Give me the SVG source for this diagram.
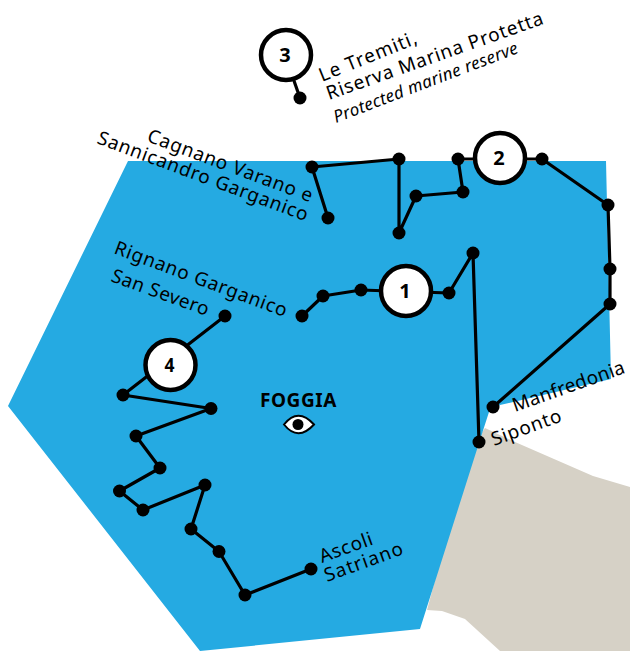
<svg xmlns="http://www.w3.org/2000/svg" width="630" height="651" viewBox="0 0 630 651">
<style>
text{font-family:"Noto Sans","Open Sans",sans-serif;fill:#000}
.l{font-size:19px;letter-spacing:.75px}
.i{font-size:17px;letter-spacing:.35px;font-style:italic}
.n{font-size:20px;font-weight:700;text-anchor:middle}
.c{fill:none;stroke:#000;stroke-width:3.2;stroke-linejoin:round}
.d{fill:#000}
.b{fill:#fff;stroke:#000;stroke-width:4.5}
</style>
<rect width="630" height="651" fill="#fff"/>
<path id="land" d="M485 428L515 442L593 476L630 487V651H500L465 619L442 611L427 610L470 450Z" fill="#d6d1c6"/>
<path id="sea" d="M128 161H606L611 379L500 405L489 412L479 443L420 629L200 651L8 406Z" fill="#25aae2"/>
<g id="connectors">
<path class="c" d="M285 55L300 98"/>
<path class="c" d="M328 218L312 167L399 159V233L416 196L463 192L458 159H542L608 205L610 269V304L493 407"/>
<path class="c" d="M302 316L323 296L361 290L449 293L473 253L479 442"/>
<path class="c" d="M225 316L123 395L211 408.500L136 436L160 468L119.500 491L143 510L205 485L191 529L219 551.500L245 595L311 569"/>
</g>
<g id="dots" class="d">
<circle cx="300" cy="98" r="6.500"/>
<circle cx="328" cy="218" r="6.500"/><circle cx="312" cy="167" r="6.500"/><circle cx="399" cy="159" r="6.500"/><circle cx="399" cy="233" r="6.500"/><circle cx="416" cy="196" r="6.500"/><circle cx="463" cy="192" r="6.500"/><circle cx="458" cy="159" r="6.500"/><circle cx="542" cy="159" r="6.500"/><circle cx="608" cy="205" r="6.500"/><circle cx="610" cy="269" r="6.500"/><circle cx="610" cy="304" r="6.500"/><circle cx="493" cy="407" r="6.500"/>
<circle cx="302" cy="316" r="6.500"/><circle cx="323" cy="296" r="6.500"/><circle cx="361" cy="290" r="6.500"/><circle cx="449" cy="293" r="6.500"/><circle cx="473" cy="253" r="6.500"/><circle cx="479" cy="442" r="6.500"/>
<circle cx="225" cy="316" r="6.500"/><circle cx="123" cy="395" r="6.500"/><circle cx="211" cy="408.500" r="6.500"/><circle cx="136" cy="436" r="6.500"/><circle cx="160" cy="468" r="6.500"/><circle cx="119.500" cy="491" r="6.500"/><circle cx="143" cy="510" r="6.500"/><circle cx="205" cy="485" r="6.500"/><circle cx="191" cy="529" r="6.500"/><circle cx="219" cy="551.500" r="6.500"/><circle cx="245" cy="595" r="6.500"/><circle cx="311" cy="569" r="6.500"/>
</g>
<g id="node-3"><circle class="b" cx="286" cy="55" r="25"/><text class="n" x="285" y="62">3</text></g>
<g id="node-2"><circle class="b" cx="500" cy="158" r="25"/><text class="n" x="499" y="165">2</text></g>
<g id="node-1"><circle class="b" cx="406" cy="291" r="25"/><text class="n" x="405" y="298">1</text></g>
<g id="node-4"><circle class="b" cx="170.500" cy="365" r="25"/><text class="n" x="169.500" y="372" textLength="10" lengthAdjust="spacingAndGlyphs">4</text></g>
<g id="labels">
<text class="l" style="letter-spacing:1.1px" transform="translate(322 82) rotate(-22)">Le Tremiti,</text>
<text class="l" style="letter-spacing:.85px" transform="translate(329 100) rotate(-19.500)">Riserva Marina Protetta</text>
<text class="i" transform="translate(336 123) rotate(-21)">Protected marine reserve</text>
<text class="l" transform="translate(146 141) rotate(20.500)">Cagnano Varano e</text>
<text class="l" transform="translate(96 143) rotate(20.500)">Sannicandro Garganico</text>
<text class="l" transform="translate(113 253) rotate(20.500)">Rignano Garganico</text>
<text class="l" style="letter-spacing:.5px" transform="translate(110 281) rotate(20)">San Severo</text>
<text class="l" style="letter-spacing:.3px" transform="translate(515 412) rotate(-19.500)">Manfredonia</text>
<text class="l" transform="translate(494 446) rotate(-20)">Siponto</text>
<text class="l" transform="translate(322 563) rotate(-20)">Ascoli</text>
<text class="l" style="letter-spacing:1.1px" transform="translate(327 582) rotate(-20)">Satriano</text>
<text x="298.500" y="407" text-anchor="middle" font-size="19" font-weight="700" letter-spacing=".6">FOGGIA</text>
</g>
<g id="eye">
<path d="M284 424.500Q298 407 314 424.500Q298 442 284 424.500Z" fill="#fff" stroke="#000" stroke-width="2"/>
<circle cx="298" cy="424.500" r="5.500" fill="#000"/>
</g>
</svg>
